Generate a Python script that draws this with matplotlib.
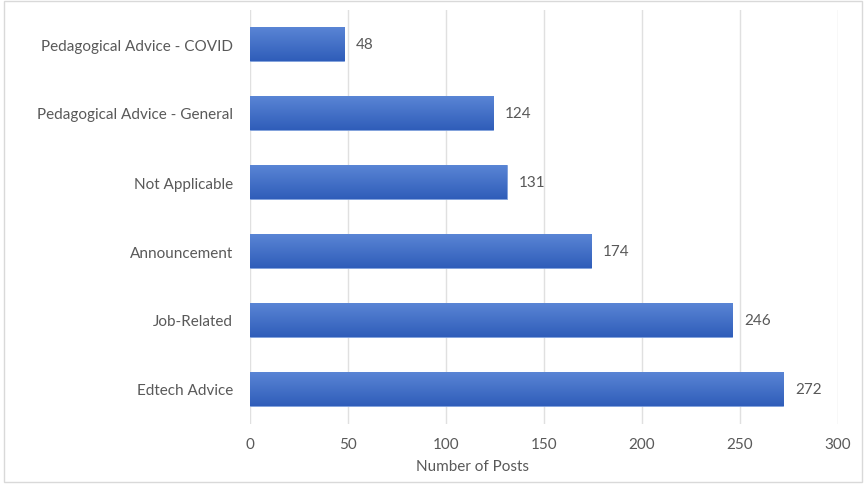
import matplotlib
matplotlib.use("Agg")
import matplotlib.pyplot as plt
import numpy as np
from matplotlib.patches import Rectangle
from matplotlib.colors import LinearSegmentedColormap

categories = ["Edtech Advice", "Job-Related", "Announcement", "Not Applicable",
              "Pedagogical Advice - General", "Pedagogical Advice - COVID"]
values = [272, 246, 174, 131, 124, 48]
xticks = [0, 50, 100, 150, 200, 250, 300]

plt.rcParams['font.family'] = ['Lato', 'DejaVu Sans']
txt = '#595959'

fig = plt.figure(figsize=(8.66, 4.85), dpi=100)
ax = fig.add_axes([250/866, 1-424.5/485, 588/866, 414/485])

ypos = np.arange(len(categories))
bars = ax.barh(ypos, values, height=0.5, color='#3F6CC6', edgecolor='#7FA0DC', linewidth=0.6, zorder=2)

# gradient fill: lighter at top, darker at bottom
grad = np.linspace(0, 1, 256).reshape(-1, 1)
cmap = LinearSegmentedColormap.from_list('g', ['#2F5DB9', '#5B86D6'])
for b in bars:
    x0, y0 = b.get_x(), b.get_y()
    w, h = b.get_width(), b.get_height()
    im = ax.imshow(grad, extent=[x0, x0 + w, y0 + h, y0], cmap=cmap, aspect='auto', zorder=2.5)
    im.set_clip_path(b)

for y, v in zip(ypos, values):
    ax.text(v + 6, y, str(v), va='center', ha='left', fontsize=11, color=txt)

ax.set_xlim(0, 300)
ax.set_ylim(-0.5, len(categories) - 0.5)
ax.set_xticks(xticks)
ax.set_yticks(ypos)
ax.set_yticklabels(categories)
ax.tick_params(axis='both', length=0, labelsize=11, labelcolor=txt)
ax.tick_params(axis='y', pad=12)
ax.tick_params(axis='x', pad=10)
ax.grid(axis='x', color='#E0E0E0', linewidth=1, zorder=0)
ax.set_axisbelow(True)
for s in ax.spines.values():
    s.set_visible(False)

fig.text(472/866, 1-467/485, "Number of Posts", ha='center', va='center', fontsize=11, color=txt)

fig.patches.append(Rectangle((0.005, 0.004), 0.99, 0.992, transform=fig.transFigure,
                             fill=False, edgecolor='#D9D9D9', linewidth=1))

fig.savefig('out.png', dpi=100)
